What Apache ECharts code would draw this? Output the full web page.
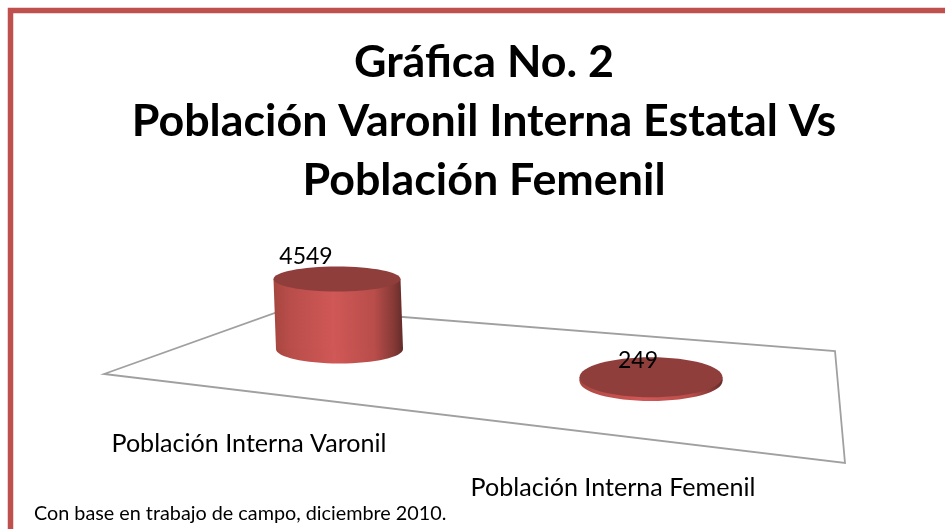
<!DOCTYPE html>
<html><head><meta charset="utf-8">
<style>html,body{margin:0;padding:0;background:#fff}#c{width:945px;height:529px}</style>
<script src="https://cdn.jsdelivr.net/npm/echarts@6/dist/echarts.min.js"></script>
</head><body><div id="c"></div>
<script>
const categories = ['Población Interna Varonil', 'Población Interna Femenil'];
const values = [4549, 249];
const titleLines = ['Gráfica No. 2', 'Población Varonil Interna Estatal Vs', 'Población Femenil'];
const footnote = 'Con base en trabajo de campo, diciembre 2010.';

const FONT = 'Lato, Carlito, "Open Sans", sans-serif';
// perspective look of each column: not data
const LOOK = [
  {rx:63.5, ryTop:12.5, ryBase:14.5, floor:0,  skew:2.5, lx:-31, ly:-22, catX:-88, catY:95},
  {rx:71.5, ryTop:20,   ryBase:20,   floor:32, skew:0,   lx:-13, ly:-17, catX:-38, catY:139}
];
const side = {type:'linear',x:0,y:0,x2:1,y2:0,colorStops:[
  {offset:0,color:'#a5463f'},{offset:.12,color:'#b84d4a'},{offset:.46,color:'#d05856'},
  {offset:.78,color:'#b84d4a'},{offset:.93,color:'#853936'},{offset:1,color:'#622b29'}]};

const chart = echarts.init(document.getElementById('c'), null, {renderer:'canvas'});
chart.setOption({
  animation:false,
  backgroundColor:'#fff',
  title:{
    text:titleLines.join('\n'), left:479, top:28.5, textAlign:'center',
    textStyle:{fontFamily:FONT,fontWeight:'bold',fontSize:44.8,lineHeight:59,color:'#000'}
  },
  grid:{left:180,width:628,top:272,height:77},
  xAxis:{type:'category',data:categories,show:false},
  yAxis:{type:'value',min:0,max:5000,show:false},
  graphic:[
    {type:'polyline',z:-1,shape:{points:[[10.5,529],[10.5,10.5],[945,10.5]]},
     style:{fill:null,stroke:'#c0504d',lineWidth:5.5}},
    {type:'polygon',z:0,shape:{points:[[104,374],[289,308],[835,351],[845,463]]},
     style:{fill:'#fff',stroke:'#a0a0a0',lineWidth:1.8}},
    {type:'text',x:34,y:514,z:5,style:{text:footnote,fontFamily:FONT,fontSize:19.8,fill:'#000',textVerticalAlign:'middle'}}
  ],
  series:[{
    type:'custom',
    coordinateSystem:'cartesian2d',
    data:values.map((v,i)=>[i,v]),
    z:3,
    renderItem(params,api){
      const i = api.value(0), L = LOOK[i];
      const base = api.coord([i,0]), top = api.coord([i,api.value(1)]);
      const bx = base[0]+L.skew, by = base[1]+L.floor;
      const tx = top[0], ty = top[1]+L.floor;
      return {type:'group',children:[
        {type:'ellipse',shape:{cx:bx,cy:by,rx:L.rx,ry:L.ryBase},style:{fill:side}},
        {type:'polygon',shape:{points:[[tx-L.rx,ty],[tx+L.rx,ty],[bx+L.rx,by],[bx-L.rx,by]]},style:{fill:side}},
        {type:'ellipse',shape:{cx:tx,cy:ty,rx:L.rx,ry:L.ryTop},style:{fill:'#8f3e3c'}},
        {type:'text',x:tx+L.lx,y:ty+L.ly,style:{text:String(api.value(1)),fontFamily:FONT,fontSize:23,fill:'#000',textAlign:'center',textVerticalAlign:'middle'}},
        {type:'text',x:base[0]+L.catX,y:base[1]+L.catY,style:{text:categories[i],fontFamily:FONT,fontSize:25.1,fill:'#000',textAlign:'center',textVerticalAlign:'middle'}}
      ]};
    }
  }]
});
</script></body></html>
